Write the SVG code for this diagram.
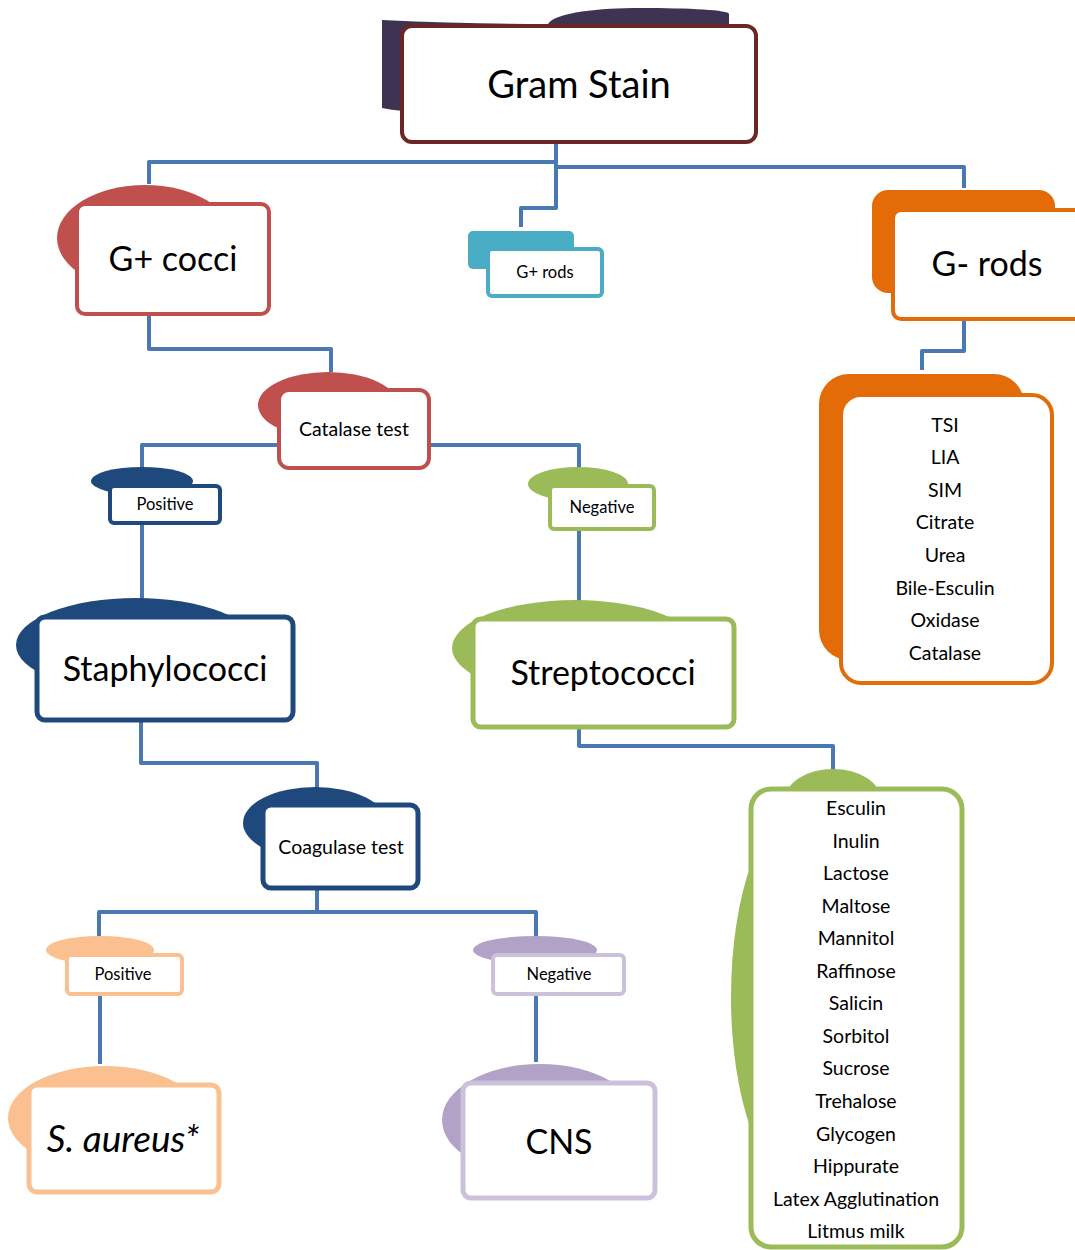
<svg xmlns="http://www.w3.org/2000/svg" width="1075" height="1250" viewBox="0 0 1075 1250">
<style>
text{font-family:Lato,"Open Sans","Liberation Sans",sans-serif;fill:#000;text-anchor:middle}
.big{font-size:34px}
.mid{font-size:19.5px}
.sm{font-size:16.5px}
.lst{font-size:19.5px}
.box{fill:#fff}
.conn{fill:none;stroke:#4a78b2;stroke-width:4;stroke-linejoin:round}
</style>
<rect width="1075" height="1250" fill="#fff"/>
<g id="connectors">
<path class="conn" d="M556,142 V208 H521 V227"/>
<path class="conn" d="M556,162 H149 V184"/>
<path class="conn" d="M556,167 H964 V188"/>
<path class="conn" d="M149,314 V349 H331 V372"/>
<path class="conn" d="M964,319 V351 H922 V370"/>
<path class="conn" d="M279,445 H142 V468"/>
<path class="conn" d="M429,445 H579 V470"/>
<path class="conn" d="M142,523 V600"/>
<path class="conn" d="M579,529 V602"/>
<path class="conn" d="M141,720 V763 H317 V789"/>
<path class="conn" d="M579,727 V746 H833 V772"/>
<path class="conn" d="M317,888 V912 H99 V938"/>
<path class="conn" d="M317,912 H536 V938"/>
<path class="conn" d="M100,994 V1064"/>
<path class="conn" d="M536,994 V1062"/>
</g>
<g id="gram-stain">
<path d="M382,20 Q470,24 548,24 C556,12 600,8 640,8 C690,8 729,10 729,14 L729,40 L430,112 Q400,112 382,108 Z" fill="#3f3354"/>
<rect class="box" x="402" y="26" width="354" height="116" rx="10" stroke="#6b2626" stroke-width="4"/>
<text x="579" y="98" style="font-size:38px">Gram Stain</text>
</g>
<g id="g-plus-cocci">
<ellipse cx="145" cy="238" rx="88" ry="53" fill="#c0504d"/>
<rect class="box" x="77" y="204" width="192" height="110" rx="8" stroke="#c0504d" stroke-width="4"/>
<text class="big" x="173" y="271">G+ cocci</text>
</g>
<g id="g-plus-rods">
<rect x="468" y="231" width="106" height="38" rx="5" fill="#4bacc6"/>
<rect class="box" x="488" y="249" width="114" height="47" rx="4" stroke="#4bacc6" stroke-width="4"/>
<text class="sm" x="545" y="278">G+ rods</text>
</g>
<g id="g-minus-rods">
<rect x="872" y="190" width="183" height="103" rx="16" fill="#e36c09"/>
<rect class="box" x="893" y="210" width="200" height="109" rx="8" stroke="#e36c09" stroke-width="4"/>
<text class="big" x="987" y="276">G- rods</text>
</g>
<g id="g-minus-tests">
<rect x="819" y="374" width="205" height="286" rx="30" fill="#e36c09"/>
<rect class="box" x="841" y="395" width="211" height="288" rx="20" stroke="#e36c09" stroke-width="4"/>
<text class="lst" x="945" y="432">TSI</text>
<text class="lst" x="945" y="464">LIA</text>
<text class="lst" x="945" y="497">SIM</text>
<text class="lst" x="945" y="529">Citrate</text>
<text class="lst" x="945" y="562">Urea</text>
<text class="lst" x="945" y="595">Bile-Esculin</text>
<text class="lst" x="945" y="627">Oxidase</text>
<text class="lst" x="945" y="660">Catalase</text>
</g>
<g id="catalase-test">
<ellipse cx="328" cy="405" rx="70" ry="33" fill="#c0504d"/>
<rect class="box" x="279" y="390" width="150" height="78" rx="10" stroke="#c0504d" stroke-width="4"/>
<text class="mid" x="354" y="436">Catalase test</text>
</g>
<g id="catalase-positive">
<ellipse cx="142" cy="481" rx="51" ry="14" fill="#1f497d"/>
<rect class="box" x="110" y="486" width="110" height="37" rx="4" stroke="#1f497d" stroke-width="4"/>
<text class="sm" x="165" y="510">Positive</text>
</g>
<g id="catalase-negative">
<ellipse cx="578" cy="484" rx="50" ry="17" fill="#9bbb59"/>
<rect class="box" x="550" y="486" width="104" height="43" rx="4" stroke="#9bbb59" stroke-width="4"/>
<text class="sm" x="602" y="513">Negative</text>
</g>
<g id="staphylococci">
<ellipse cx="136" cy="645" rx="120" ry="47" fill="#1f497d"/>
<rect class="box" x="37" y="617" width="256" height="103" rx="8" stroke="#1f497d" stroke-width="5"/>
<text class="big" x="165" y="681">Staphylococci</text>
</g>
<g id="streptococci">
<ellipse cx="575" cy="648" rx="123" ry="48" fill="#9bbb59"/>
<rect class="box" x="473" y="619" width="261" height="108" rx="8" stroke="#9bbb59" stroke-width="5"/>
<text class="big" x="603" y="685">Streptococci</text>
</g>
<g id="coagulase-test">
<ellipse cx="315" cy="823" rx="72" ry="36" fill="#1f497d"/>
<rect class="box" x="263" y="805" width="155" height="83" rx="8" stroke="#1f497d" stroke-width="5"/>
<text class="mid" x="341" y="854">Coagulase test</text>
</g>
<g id="streptococci-tests">
<ellipse cx="833" cy="800" rx="48" ry="31" fill="#9bbb59"/>
<ellipse cx="800" cy="997" rx="69" ry="188" fill="#9bbb59"/>
<rect class="box" x="751" y="789" width="211" height="458" rx="20" stroke="#9bbb59" stroke-width="5"/>
<text class="lst" x="856" y="815">Esculin</text>
<text class="lst" x="856" y="848">Inulin</text>
<text class="lst" x="856" y="880">Lactose</text>
<text class="lst" x="856" y="913">Maltose</text>
<text class="lst" x="856" y="945">Mannitol</text>
<text class="lst" x="856" y="978">Raffinose</text>
<text class="lst" x="856" y="1010">Salicin</text>
<text class="lst" x="856" y="1043">Sorbitol</text>
<text class="lst" x="856" y="1075">Sucrose</text>
<text class="lst" x="856" y="1108">Trehalose</text>
<text class="lst" x="856" y="1141">Glycogen</text>
<text class="lst" x="856" y="1173">Hippurate</text>
<text class="lst" x="856" y="1206">Latex Agglutination</text>
<text class="lst" x="856" y="1238">Litmus milk</text>
</g>
<g id="coagulase-positive">
<ellipse cx="100" cy="950" rx="54" ry="14" fill="#fac090"/>
<rect class="box" x="67" y="955" width="115" height="39" rx="4" stroke="#fac090" stroke-width="4"/>
<text class="sm" x="123" y="980">Positive</text>
</g>
<g id="coagulase-negative">
<ellipse cx="535" cy="950" rx="62" ry="14" fill="#b2a2c7"/>
<rect class="box" x="493" y="955" width="131" height="39" rx="4" stroke="#ccc1da" stroke-width="4"/>
<text class="sm" x="559" y="980">Negative</text>
</g>
<g id="s-aureus">
<ellipse cx="105" cy="1118" rx="97" ry="52" fill="#fac090"/>
<rect class="box" x="29" y="1085" width="190" height="107" rx="8" stroke="#fac090" stroke-width="5"/>
<text x="123" y="1152" font-style="italic" style="font-size:37px">S. aureus*</text>
</g>
<g id="cns">
<ellipse cx="540" cy="1120" rx="98" ry="56" fill="#b2a2c7"/>
<rect class="box" x="463" y="1083" width="192" height="115" rx="8" stroke="#ccc1da" stroke-width="5"/>
<text class="big" x="559" y="1154">CNS</text>
</g>
</svg>
